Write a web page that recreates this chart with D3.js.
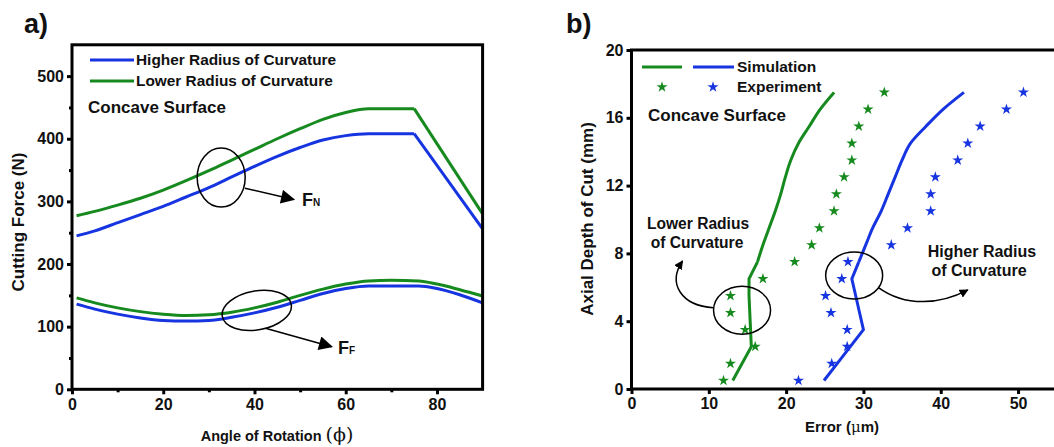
<!DOCTYPE html>
<html>
<head>
<meta charset="utf-8">
<script src="https://cdn.jsdelivr.net/npm/d3@7"></script>
<title>Cutting force and error, concave surface</title>
<style>
body {
	margin: 0;
	background: white;
}
svg text {
	font-family: "Liberation Sans", Arial, sans-serif;
	font-weight: bold;
	fill: #111;
}
.tick line {
	stroke: #000;
	stroke-width: 3;
}
.domain {
	display: none;
}
</style>
</head>
<body>
<svg id="chart" width="1054" height="447"></svg>
<script>

// -- data, panel a (cutting force vs angle of rotation)

var fnAngle  = [1, 5, 10, 15, 20, 25, 30, 35, 40, 45, 50, 55, 60, 65, 75, 90];
var fnHigher = [245, 253, 266, 279, 292, 307, 322, 339, 356, 372, 386, 398, 405, 408, 408, 256];
var fnLower  = [277, 284, 294, 305, 318, 333, 349, 366, 383, 400, 416, 431, 442, 448, 448, 280];

var ffAngle  = [1, 5, 10, 15, 20, 25, 30, 35, 40, 45, 50, 55, 60, 65, 70, 76, 80, 85, 90];
var ffHigher = [136, 128, 120, 114, 110, 109, 110, 115, 122, 131, 142, 153, 161, 165, 165, 165, 161, 151, 138];
var ffLower  = [146, 138, 130, 124, 120, 118, 119, 123, 130, 139, 150, 160, 168, 173, 174, 173, 168, 159, 149];

var aXTicks = [0, 20, 40, 60, 80];
var aXMinor = [10, 30, 50, 70];
var aYTicks = [0, 100, 200, 300, 400, 500];
var aYMinor = [50, 150, 250, 350, 450];

// -- data, panel b (error vs axial depth of cut)

var depth     = [0.5, 1.5, 2.5, 3.5, 4.5, 5.5, 6.5, 7.5, 8.5, 9.5, 10.5, 11.5, 12.5, 13.5, 14.5, 15.5, 16.5, 17.5];
var simLower  = [13.1, 14.3, 15.5, 15.4, 15.3, 15.2, 15.2, 16.3, 17.0, 17.8, 18.6, 19.3, 19.9, 20.6, 21.6, 23.0, 24.4, 26.2];
var simHigher = [24.9, 26.6, 28.3, 30.0, 29.5, 29.0, 28.5, 29.4, 30.3, 31.2, 32.3, 33.2, 34.1, 35.0, 36.1, 38.1, 40.3, 43.0];
var expLower  = [11.9, 12.8, 16.0, 14.7, 12.8, 12.8, 17.0, 21.1, 23.3, 24.3, 26.2, 26.5, 27.5, 28.5, 28.5, 29.4, 30.6, 32.7];
var expHigher = [21.6, 25.9, 27.9, 27.9, 25.8, 25.1, 27.2, 28.0, 33.6, 35.7, 38.7, 38.7, 39.3, 42.2, 43.5, 45.1, 48.5, 50.7];

var bXTicks = [0, 10, 20, 30, 40, 50];
var bYTicks = [0, 4, 8, 12, 16, 20];

// -- setting

const blue = "#1634e0";
const green = "#168a1e";
const lineWidth = 3;

var svg = d3.select("#chart");

var defs = svg.append("defs");
defs.append("marker")
	.attr("id", "arrow")
	.attr("viewBox", "0 0 10 10")
	.attr("refX", 9)
	.attr("refY", 5)
	.attr("markerWidth", 9)
	.attr("markerHeight", 9)
	.attr("markerUnits", "userSpaceOnUse")
	.attr("orient", "auto")
	.append("path")
		.attr("d", "M0,0 L10,5 L0,10 z")
		.attr("fill", "#000");

defs.append("marker")
	.attr("id", "bigarrow")
	.attr("viewBox", "0 0 10 10")
	.attr("refX", 9)
	.attr("refY", 5)
	.attr("markerWidth", 16)
	.attr("markerHeight", 14)
	.attr("markerUnits", "userSpaceOnUse")
	.attr("orient", "auto")
	.append("path")
		.attr("d", "M0,0 L10,5 L0,10 z")
		.attr("fill", "#000");

function zip(xs, ys) {
	return xs.map((v, i) => [v, ys[i]]);
}

// ================= panel a =================

var xA = d3.scaleLinear().domain([0, 90]).range([72, 482.6]);
var yA = d3.scaleLinear().domain([0, 550]).range([389.3, 44.8]);

var gA = svg.append("g");

gA.append("g")
	.attr("transform", "translate(" + xA(0) + ",0)")
	.call(d3.axisLeft(yA).tickValues(aYTicks).tickSize(5).tickPadding(3))
	.selectAll("text").style("font-size", "16px");
gA.append("g")
	.attr("transform", "translate(" + xA(0) + ",0)")
	.call(d3.axisLeft(yA).tickValues(aYMinor).tickSize(3).tickFormat(""));

gA.append("g")
	.attr("transform", "translate(0," + yA(0) + ")")
	.call(d3.axisBottom(xA).tickValues(aXTicks).tickSize(5).tickPadding(4))
	.selectAll("text").style("font-size", "16px");
gA.append("g")
	.attr("transform", "translate(0," + yA(0) + ")")
	.call(d3.axisBottom(xA).tickValues(aXMinor).tickSize(3).tickFormat(""));

// curves
var smooth = d3.line().x(d => xA(d[0])).y(d => yA(d[1])).curve(d3.curveMonotoneX);
var straight = d3.line().x(d => xA(d[0])).y(d => yA(d[1]));

function drawFN(values, color) {
	var pts = zip(fnAngle, values);
	var head = pts.filter(d => d[0] <= 75);
	var tail = pts.filter(d => d[0] >= 75);
	gA.append("path").attr("d", smooth(head))
		.attr("fill", "none").attr("stroke", color).attr("stroke-width", lineWidth);
	gA.append("path").attr("d", straight(tail))
		.attr("fill", "none").attr("stroke", color).attr("stroke-width", lineWidth);
}
drawFN(fnLower, green);
drawFN(fnHigher, blue);

gA.append("path").attr("d", smooth(zip(ffAngle, ffLower)))
	.attr("fill", "none").attr("stroke", green).attr("stroke-width", lineWidth);
gA.append("path").attr("d", smooth(zip(ffAngle, ffHigher)))
	.attr("fill", "none").attr("stroke", blue).attr("stroke-width", lineWidth);

// frame
gA.append("rect")
	.attr("x", xA(0)).attr("y", yA(550))
	.attr("width", xA(90) - xA(0)).attr("height", yA(0) - yA(550))
	.attr("fill", "none").attr("stroke", "#000").attr("stroke-width", 3);

// legend
var legA = [["Higher Radius of Curvature", blue], ["Lower Radius of Curvature", green]];
legA.forEach(function(d, i) {
	var ly = 60 + i * 21;
	gA.append("line")
		.attr("x1", 90).attr("x2", 134).attr("y1", ly).attr("y2", ly)
		.attr("stroke", d[1]).attr("stroke-width", lineWidth);
	gA.append("text")
		.attr("x", 136).attr("y", ly + 5)
		.style("font-size", "15.4px")
		.text(d[0]);
});

gA.append("text")
	.attr("x", 88).attr("y", 113)
	.style("font-size", "17px")
	.text("Concave Surface");

// FN annotation
gA.append("ellipse")
	.attr("cx", xA(32.7)).attr("cy", yA(338))
	.attr("rx", 24).attr("ry", 29.5)
	.attr("fill", "none").attr("stroke", "#000").attr("stroke-width", 1.5);
gA.append("line")
	.attr("x1", xA(37.9)).attr("y1", yA(321))
	.attr("x2", xA(48.6)).attr("y2", yA(303))
	.attr("stroke", "#000").attr("stroke-width", 1.5)
	.attr("marker-end", "url(#bigarrow)");
var fn = gA.append("text").attr("x", xA(50.4)).attr("y", yA(292));
fn.append("tspan").style("font-size", "18px").text("F");
fn.append("tspan").style("font-size", "10px").text("N");

// FF annotation
gA.append("ellipse")
	.attr("transform", "translate(" + xA(40.5) + "," + yA(126) + ") rotate(-10)")
	.attr("rx", 35).attr("ry", 19.5)
	.attr("fill", "none").attr("stroke", "#000").attr("stroke-width", 1.5);
gA.append("line")
	.attr("x1", xA(42.6)).attr("y1", yA(97))
	.attr("x2", xA(56.9)).attr("y2", yA(68))
	.attr("stroke", "#000").attr("stroke-width", 1.5)
	.attr("marker-end", "url(#bigarrow)");
var ff = gA.append("text").attr("x", xA(58.3)).attr("y", yA(56));
ff.append("tspan").style("font-size", "18px").text("F");
ff.append("tspan").style("font-size", "10px").text("F");

// titles
gA.append("text")
	.attr("x", 24).attr("y", 33)
	.style("font-size", "27px")
	.text("a)");

gA.append("text")
	.attr("transform", "translate(24,222) rotate(-90)")
	.attr("text-anchor", "middle")
	.style("font-size", "17px")
	.text("Cutting Force (N)");

var xt = gA.append("text")
	.attr("x", 277).attr("y", 441)
	.attr("text-anchor", "middle")
	.style("font-size", "14.5px");
xt.append("tspan").text("Angle of Rotation ");
xt.append("tspan")
	.style("font-family", "'DejaVu Serif', serif")
	.style("font-weight", "normal")
	.style("font-size", "19px")
	.text("(\u03D5)");

// ================= panel b =================

var xB = d3.scaleLinear().domain([0, 55]).range([631.5, 1056.7]);
var yB = d3.scaleLinear().domain([0, 20]).range([389, 50]);

var gB = svg.append("g");

gB.append("g")
	.attr("transform", "translate(" + xB(0) + ",0)")
	.call(d3.axisLeft(yB).tickValues(bYTicks).tickSize(5).tickPadding(3))
	.selectAll("text").style("font-size", "16px");

gB.append("g")
	.attr("transform", "translate(0," + yB(0) + ")")
	.call(d3.axisBottom(xB).tickValues(bXTicks).tickSize(5).tickPadding(4))
	.selectAll("text").style("font-size", "16px");

// frame: left, bottom, top (right side runs off the picture)
gB.append("path")
	.attr("d", "M" + xB(55) + "," + yB(20) + "H" + xB(0) + "V" + yB(0) + "H" + xB(55))
	.attr("fill", "none").attr("stroke", "#000").attr("stroke-width", 3);

// simulation: straight pieces near the bottom, smooth above the kink at 6.5 mm
var simStraight = d3.line().x(d => xB(d[0])).y(d => yB(d[1]));
var simSmooth = d3.line().x(d => xB(d[0])).y(d => yB(d[1])).curve(d3.curveMonotoneY);

function drawSim(values, color) {
	var pts = zip(values, depth);
	gB.append("path").attr("d", simStraight(pts.filter(d => d[1] <= 7.5)))
		.attr("fill", "none").attr("stroke", color).attr("stroke-width", lineWidth);
	gB.append("path").attr("d", simSmooth(pts.filter(d => d[1] >= 7.5)))
		.attr("fill", "none").attr("stroke", color).attr("stroke-width", lineWidth);
}
drawSim(simLower, green);
drawSim(simHigher, blue);

var star = d3.symbol(d3.symbolStar).size(38);

gB.selectAll(".expLower")
	.data(zip(expLower, depth))
	.enter().append("path")
	.attr("class", "expLower")
	.attr("transform", d => "translate(" + xB(d[0]) + "," + yB(d[1]) + ")")
	.attr("d", star)
	.attr("fill", green);

gB.selectAll(".expHigher")
	.data(zip(expHigher, depth))
	.enter().append("path")
	.attr("class", "expHigher")
	.attr("transform", d => "translate(" + xB(d[0]) + "," + yB(d[1]) + ")")
	.attr("d", star)
	.attr("fill", blue);

// legend
gB.append("line")
	.attr("x1", 642).attr("x2", 682).attr("y1", 67).attr("y2", 67)
	.attr("stroke", green).attr("stroke-width", lineWidth);
gB.append("line")
	.attr("x1", 693).attr("x2", 734).attr("y1", 67).attr("y2", 67)
	.attr("stroke", blue).attr("stroke-width", lineWidth);
gB.append("text").attr("x", 737).attr("y", 72)
	.style("font-size", "15.5px").text("Simulation");
gB.append("path").attr("transform", "translate(662,87)").attr("d", star).attr("fill", green);
gB.append("path").attr("transform", "translate(713,87)").attr("d", star).attr("fill", blue);
gB.append("text").attr("x", 737).attr("y", 92)
	.style("font-size", "15.5px").text("Experiment");

gB.append("text").attr("x", 648).attr("y", 121)
	.style("font-size", "17px").text("Concave Surface");

// lower radius annotation
gB.append("text").attr("x", 698).attr("y", 229).attr("text-anchor", "middle")
	.style("font-size", "15.6px").text("Lower Radius");
gB.append("text").attr("x", 697).attr("y", 248).attr("text-anchor", "middle")
	.style("font-size", "15.6px").text("of Curvature");
gB.append("ellipse")
	.attr("cx", xB(14.3)).attr("cy", yB(4.65))
	.attr("rx", 28.5).attr("ry", 24)
	.attr("fill", "none").attr("stroke", "#000").attr("stroke-width", 1.5);
gB.append("path")
	.attr("d", "M" + xB(10.6) + "," + yB(4.8) +
		" C" + xB(6.5) + "," + yB(4.9) + " " + xB(4.6) + "," + yB(6.2) + " " + xB(6.6) + "," + yB(7.55))
	.attr("fill", "none").attr("stroke", "#000").attr("stroke-width", 1.5)
	.attr("marker-end", "url(#arrow)");

// higher radius annotation
gB.append("text").attr("x", 982).attr("y", 257).attr("text-anchor", "middle")
	.style("font-size", "16px").text("Higher Radius");
gB.append("text").attr("x", 979).attr("y", 276).attr("text-anchor", "middle")
	.style("font-size", "16px").text("of Curvature");
gB.append("ellipse")
	.attr("cx", xB(28.8)).attr("cy", yB(6.7))
	.attr("rx", 28.5).attr("ry", 23.5)
	.attr("fill", "none").attr("stroke", "#000").attr("stroke-width", 1.5);
gB.append("path")
	.attr("d", "M" + xB(31.9) + "," + yB(6.0) +
		" C" + xB(35.5) + "," + yB(4.8) + " " + xB(40) + "," + yB(5.0) + " " + xB(43.5) + "," + yB(5.85))
	.attr("fill", "none").attr("stroke", "#000").attr("stroke-width", 1.5)
	.attr("marker-end", "url(#arrow)");

// titles
gB.append("text")
	.attr("x", 566).attr("y", 33)
	.style("font-size", "27px")
	.text("b)");

gB.append("text")
	.attr("transform", "translate(593,219) rotate(-90)")
	.attr("text-anchor", "middle")
	.style("font-size", "17px")
	.text("Axial Depth of Cut (mm)");

var et = gB.append("text")
	.attr("x", 842).attr("y", 432)
	.attr("text-anchor", "middle")
	.style("font-size", "15px");
et.append("tspan").text("Error (");
et.append("tspan").style("font-weight", "normal").style("font-family", "'DejaVu Serif', serif").text("\u03BC");
et.append("tspan").text("m)");

</script>
</body>
</html>
